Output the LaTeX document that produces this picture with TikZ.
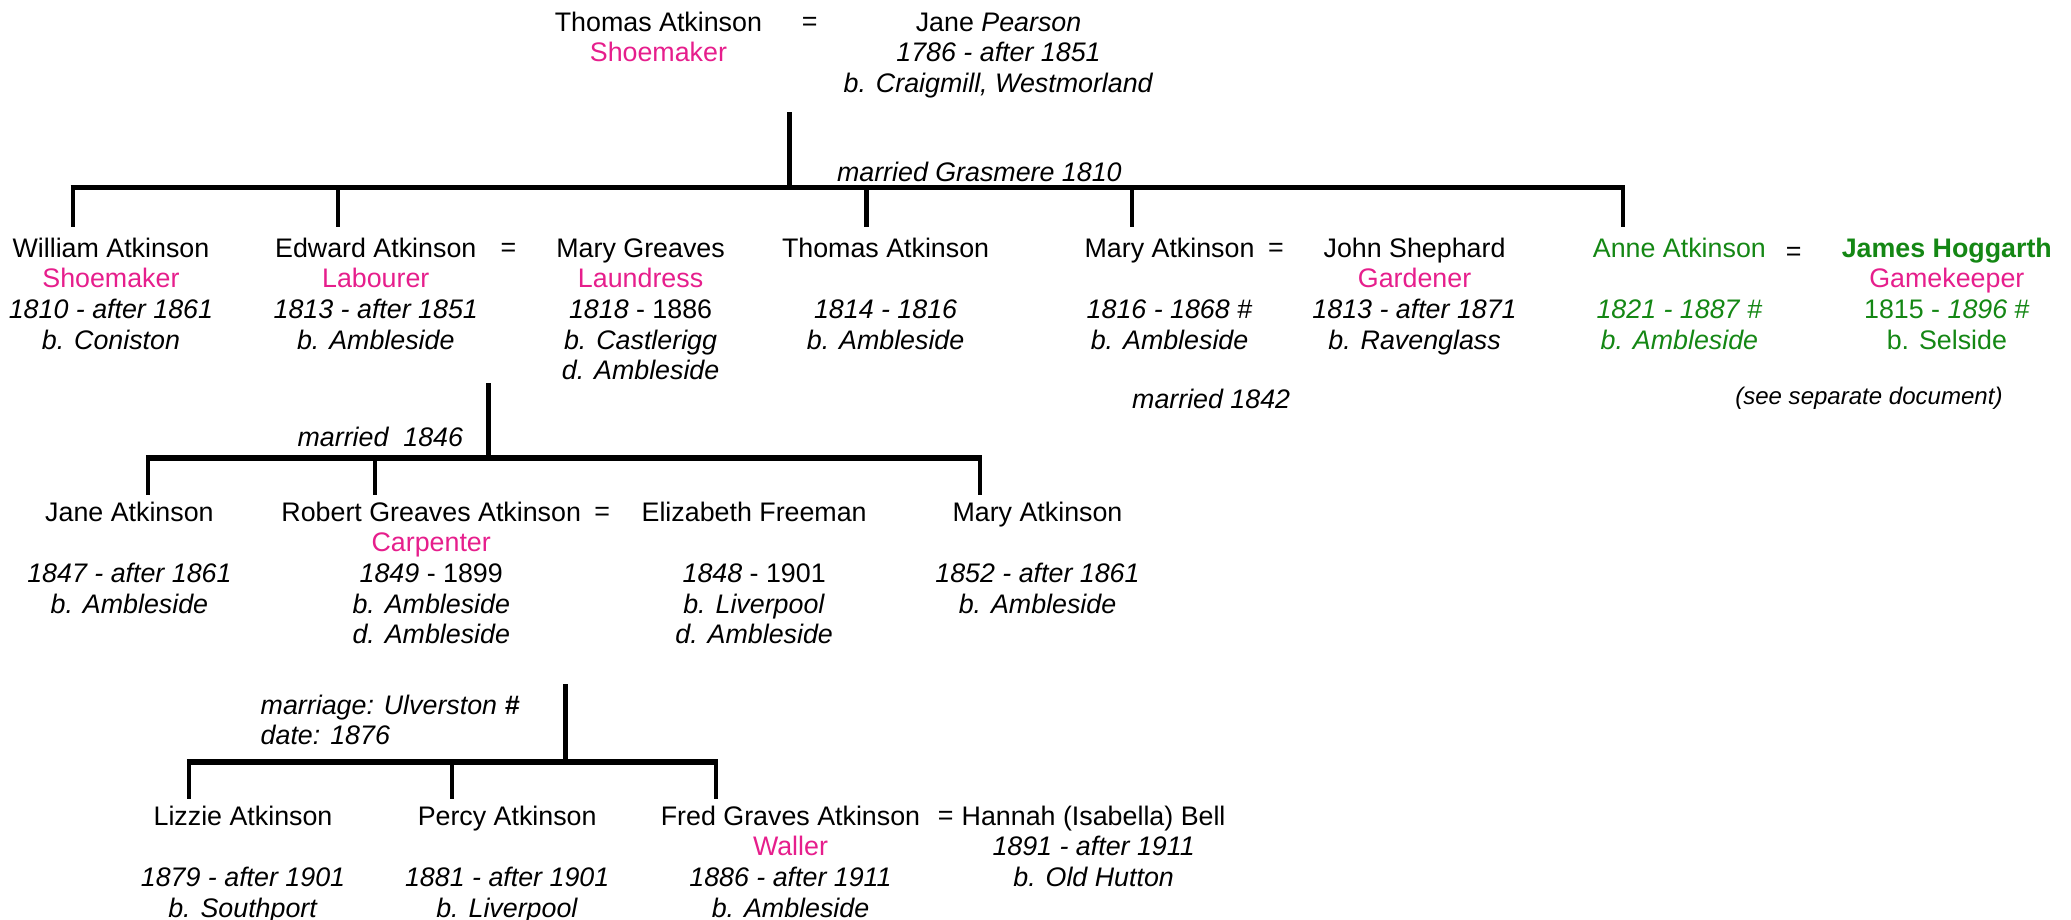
\documentclass[tikz,border=0pt]{standalone}
\usepackage{fontspec}
\setmainfont{Liberation Sans}
\definecolor{occpink}{RGB}{230,30,140}
\definecolor{famgreen}{RGB}{20,135,20}
\newcommand{\occ}[1]{\textcolor{occpink}{#1}}
\begin{document}
\begin{tikzpicture}[x=0.5pt,y=-0.5pt,
  every node/.style={inner sep=0pt, font=\fontsize{10.15pt}{11.6pt}\selectfont},
  person/.style={align=center, anchor=north},
  eqsign/.style={anchor=base},
  note/.style={anchor=base, font=\fontsize{10.15pt}{11.6pt}\selectfont\itshape},
  smallnote/.style={anchor=base, font=\fontsize{9.1pt}{10.5pt}\selectfont\itshape},
  greenperson/.style={person, text=famgreen},
  bar/.style={line width=2.2pt},
  drop/.style={line width=1.6pt},
  wed/.style={line width=2pt},
]
\useasboundingbox (0,0) rectangle (1568,696.5);

% ---------- generation 0 ----------
\node[person] (thomas0) at (498.5,7.06) {\strut Thomas Atkinson\\\occ{Shoemaker}};
\node[eqsign] (eq0) at (613,23.3) {=};
\node[person] (jane0) at (756,7.06) {\strut Jane \textit{Pearson}\\\textit{1786 - after 1851}\\\textit{b. Craigmill, Westmorland}};
\coordinate (m0) at (598,85);
\coordinate (j0) at (598,142);
\draw[wed] (m0) -- (j0);
\node[note] (mar0) at (741.5,137.3) {married Grasmere 1810};

% ---------- generation 1 ----------
\coordinate (d11) at (55,172);
\coordinate (d12) at (256,172);
\coordinate (d13) at (656,172);
\coordinate (d14) at (857,172);
\coordinate (d15) at (1229,172);
\draw[bar] ([xshift=-0.8pt]j0 -| d11) -- ([xshift=0.8pt]j0 -| d15);
\foreach \d in {d11,d12,d13,d14,d15} \draw[drop] (j0 -| \d) -- (\d);

\node[person] (william) at (84,178.06) {\strut William Atkinson\\\occ{Shoemaker}\\\textit{1810 - after 1861}\\\textit{b. Coniston}};
\node[person] (edward) at (284.5,178.06) {\strut Edward Atkinson\\\occ{Labourer}\\\textit{1813 - after 1851}\\\textit{b. Ambleside}};
\node[eqsign] (eq1) at (385,194.3) {=};
\node[person] (marygreaves) at (485,178.06) {\strut Mary Greaves\\\occ{Laundress}\\\textit{1818} - 1886\\\textit{b. Castlerigg}\\\textit{d. Ambleside}};
\node[person] (thomas1) at (670.5,178.06) {\strut Thomas Atkinson\\\strut\\\textit{1814 - 1816}\\\textit{b. Ambleside}};
\node[person] (marya) at (885.5,178.06) {\strut Mary Atkinson\\\strut\\\textit{1816 - 1868 \#}\\\textit{b. Ambleside}};
\node[eqsign] (eq2) at (966,194.3) {=};
\node[person] (john) at (1071,178.06) {\strut John Shephard\\\occ{Gardener}\\\textit{1813 - after 1871}\\\textit{b. Ravenglass}};
\node[greenperson] (anne) at (1271.5,178.06) {\strut Anne Atkinson\\\strut\\\textit{1821 - 1887 \#}\\\textit{b. Ambleside}};
\node[eqsign] (eq3) at (1358,197) {=};
\node[greenperson] (james) at (1474,178.06) {\strut\textbf{James Hoggarth}\\\occ{Gamekeeper}\\1815 - \textit{1896} \#\\b. Selside};
\node[note] (mar2) at (917,309.3) {married 1842};
\node[smallnote] (see) at (1415,306.5) {(see separate document)};

% ---------- generation 2 ----------
\coordinate (m1) at (370,290);
\coordinate (j1) at (370,347);
\draw[wed] (m1) -- (j1);
\node[note, anchor=base east] (mar1) at (351,337.9) {married\ \ 1846};
\coordinate (d21) at (112,375);
\coordinate (d22) at (284,375);
\coordinate (d23) at (742,375);
\draw[bar] ([xshift=-0.8pt]j1 -| d21) -- ([xshift=0.8pt]j1 -| d23);
\foreach \d in {d21,d22,d23} \draw[drop] (j1 -| \d) -- (\d);

\node[person] (janea) at (98,378.06) {\strut Jane Atkinson\\\strut\\\textit{1847 - after 1861}\\\textit{b. Ambleside}};
\node[person] (robert) at (326.5,378.06) {\strut Robert Greaves Atkinson\\\occ{Carpenter}\\\textit{1849} - 1899\\\textit{b. Ambleside}\\\textit{d. Ambleside}};
\node[eqsign] (eq4) at (456,394.3) {=};
\node[person] (elizabeth) at (571,378.06) {\strut Elizabeth Freeman\\\strut\\\textit{1848} - 1901\\\textit{b. Liverpool}\\\textit{d. Ambleside}};
\node[person] (marya2) at (785.5,378.06) {\strut Mary Atkinson\\\strut\\\textit{1852 - after 1861}\\\textit{b. Ambleside}};

% ---------- generation 3 ----------
\coordinate (m2) at (428,518);
\coordinate (j2) at (428,577);
\draw[wed] (m2) -- (j2);
\node[align=left, anchor=north west, font=\fontsize{10.15pt}{10.5pt}\selectfont\itshape] (mar3) at (197,525.6) {\strut marriage: Ulverston \textbf{\#}\\date: 1876};
\coordinate (d31) at (143,605);
\coordinate (d32) at (342,605);
\coordinate (d33) at (542,605);
\draw[bar] ([xshift=-0.8pt]j2 -| d31) -- ([xshift=0.8pt]j2 -| d33);
\foreach \d in {d31,d32,d33} \draw[drop] (j2 -| \d) -- (\d);

\node[person] (lizzie) at (184,608.06) {\strut Lizzie Atkinson\\\strut\\\textit{1879 - after 1901}\\\textit{b. Southport}};
\node[person] (percy) at (384,608.06) {\strut Percy Atkinson\\\strut\\\textit{1881 - after 1901}\\\textit{b. Liverpool}};
\node[person] (fred) at (598.5,608.06) {\strut Fred Graves Atkinson\\\occ{Waller}\\\textit{1886 - after 1911}\\\textit{b. Ambleside}};
\node[eqsign] (eq5) at (716,624.3) {=};
\node[person] (hannah) at (828,608.06) {\strut Hannah (Isabella) Bell\\\textit{1891 - after 1911}\\\textit{b. Old Hutton}};
\end{tikzpicture}
\end{document}
